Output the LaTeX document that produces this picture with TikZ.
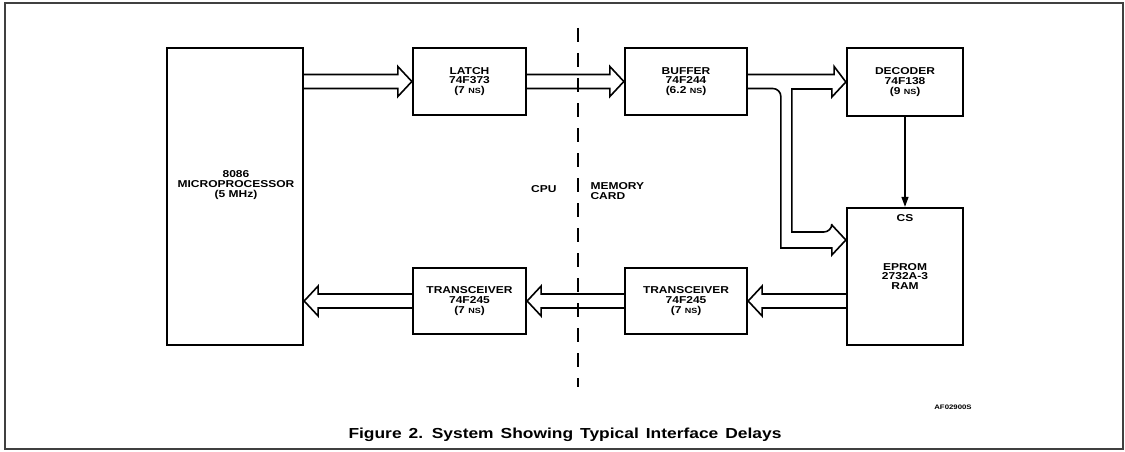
\documentclass[tikz,border=0pt]{standalone}
\usepackage{fontspec}
\setmainfont{Liberation Sans}[FakeStretch=1.2]
\usetikzlibrary{arrows.meta,calc}
\newcommand\lbl{\fontsize{10}{9.8}\selectfont\bfseries}
\newcommand\ttl{\fontsize{14.5}{14.5}\selectfont\bfseries\spaceskip=7pt plus 1pt\relax}
\newcommand\nsec{{\fontsize{7.5}{7.5}\selectfont NS}}
\tikzset{
  blk/.style  = {draw, line width=2.3pt, align=center, font=\lbl, inner sep=0pt},
  busline/.style = {line width=1.6pt, line join=miter},
  bus/.style  = {busline, to path={
      ($(\tikztostart)!7pt!90:(\tikztotarget)$)
      -- ($($(\tikztotarget)!14pt!(\tikztostart)$)!7pt!90:(\tikztotarget)$)
      -- ($($(\tikztotarget)!14pt!(\tikztostart)$)!15pt!90:(\tikztotarget)$)
      -- (\tikztotarget)
      -- ($($(\tikztotarget)!14pt!(\tikztostart)$)!15pt!-90:(\tikztotarget)$)
      -- ($($(\tikztotarget)!14pt!(\tikztostart)$)!7pt!-90:(\tikztotarget)$)
      -- ($(\tikztostart)!7pt!-90:(\tikztotarget)$)}},
  sig/.style  = {line width=1.3pt, -{Triangle[length=10pt,width=7pt]}},
  divider/.style = {line width=2pt, dash pattern=on 14pt off 11pt}
}

\begin{document}
\begin{tikzpicture}[x=1pt,y=-1pt]
\useasboundingbox (0,0) rectangle (1125,452);
\draw[black!75, line width=1.2pt] (5,3) rectangle (1123,449); % figure frame

\node[blk, minimum width=136pt, minimum height=297pt] (micro) at (235,196.5) {};
\node[font=\lbl, align=center] (microtxt) at (236,185) {8086\\MICROPROCESSOR\\(5 MHz)};
\node[blk, minimum width=113pt, minimum height=67pt] (latch) at (469.5,81.5) {LATCH\\74F373\\(7 \nsec)};
\node[blk, minimum width=122pt, minimum height=67pt] (buffer) at (686,81.5) {BUFFER\\74F244\\(6.2 \nsec)};
\node[blk, minimum width=116pt, minimum height=68pt] (decoder) at (905,82) {DECODER\\74F138\\(9 \nsec)};
\node[blk, minimum width=116pt, minimum height=137pt] (eprom) at (905,276.5) {EPROM\\2732A-3\\RAM};
\node[font=\lbl] (cs) at ([yshift=-11pt]eprom.north) {CS};
\node[blk, minimum width=113pt, minimum height=66pt] (xcvr1) at (469.5,301) {TRANSCEIVER\\74F245\\(7 \nsec)};
\node[blk, minimum width=122pt, minimum height=66pt] (xcvr2) at (686,301) {TRANSCEIVER\\74F245\\(7 \nsec)};

% CPU / memory card split
\draw[divider] (578,28) -- (578,387);
\node[font=\lbl, anchor=east] (cpu) at (560,189) {CPU};
\node[font=\lbl, anchor=west, align=left] (memcard) at (587,191) {MEMORY\\CARD};

% buses
\draw[bus] (micro.east |- latch.west) to (latch.west);
\draw[bus] (latch.east) to (buffer.west);
\draw[bus] (eprom.west |- xcvr2.east) to (xcvr2.east);
\draw[bus] (xcvr2.west) to (xcvr1.east);
\draw[bus] (xcvr1.west) to (micro.east |- xcvr1.west);
\draw[busline] ([yshift=7pt]buffer.east) -- ++(86,0) -- ++(0,-8) -- (decoder.west) -- ++(-14,15) -- ++(0,-8)
  -- ++(-40,0) -- ++(0,143) [rounded corners=8pt] -- ++(40,0) [sharp corners] -- ++(0,-7)
  -- ([yshift=36.5pt]eprom.west) -- ++(-14,15) -- ++(0,-7) -- ++(-51,0)
  [rounded corners=8pt] -- ++(0,-159.5) -- ([yshift=-7pt]buffer.east);
\draw[sig] (decoder) -- (eprom);

\node[font=\fontsize{6.5}{6.5}\selectfont\bfseries] (code) at (953,407) {AF02900S};
\node[font=\ttl] (title) at (565,435) {Figure 2. System Showing Typical Interface Delays};
\end{tikzpicture}
\end{document}
